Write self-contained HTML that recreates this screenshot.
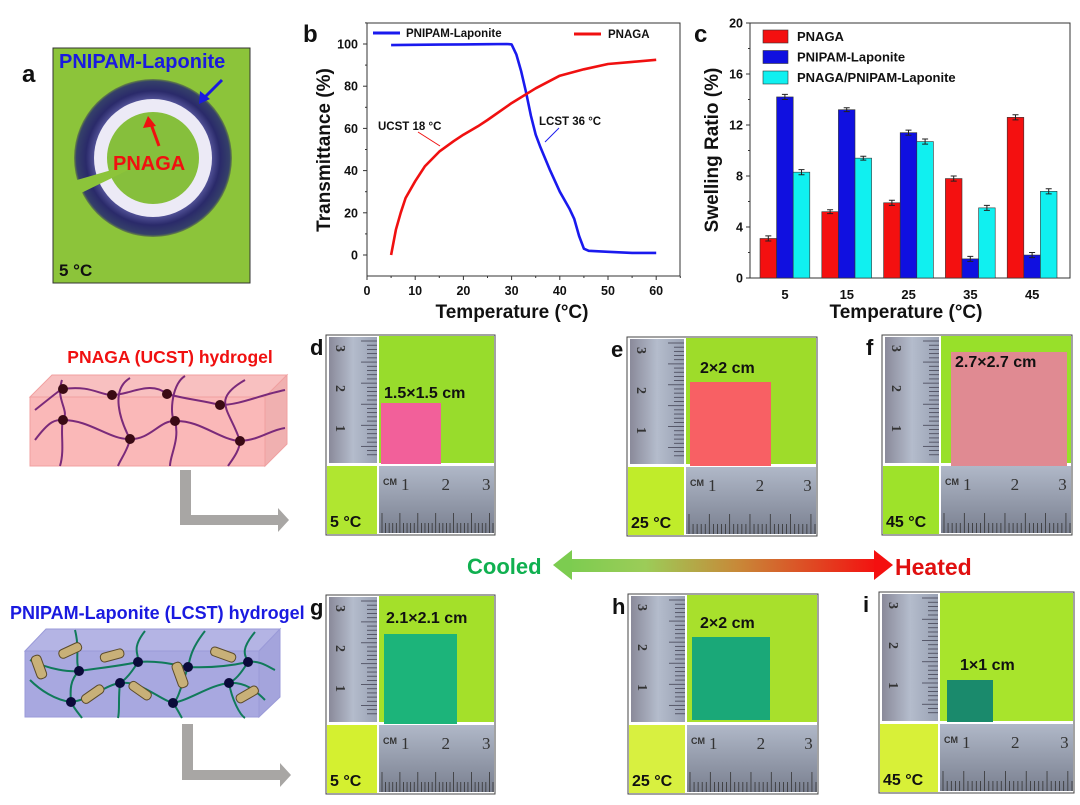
<!DOCTYPE html>
<html><head><meta charset="utf-8"><style>
html,body{margin:0;padding:0;background:#fff}
svg{display:block;font-family:"Liberation Sans",Arial,sans-serif;font-weight:bold}
</style></head><body>
<svg id="fig" width="1080" height="805" viewBox="0 0 1080 805" xmlns="http://www.w3.org/2000/svg">
<defs>
<linearGradient id="arrowGrad" x1="0" x2="1" y1="0" y2="0"><stop offset="0" stop-color="#7ccc50"/><stop offset="0.25" stop-color="#9ccc58"/><stop offset="0.55" stop-color="#c88838"/><stop offset="1" stop-color="#f41010"/></linearGradient>
<linearGradient id="rulerV" x1="0" x2="1"><stop offset="0" stop-color="#8a8a9a"/><stop offset="0.5" stop-color="#b4bccc"/><stop offset="1" stop-color="#9aa2b4"/></linearGradient>
<linearGradient id="rulerH" x1="0" x2="0" y1="0" y2="1"><stop offset="0" stop-color="#b0b8c8"/><stop offset="1" stop-color="#7a8090"/></linearGradient>
<radialGradient id="ringGrad"><stop offset="0.72" stop-color="#5a5aa0"/><stop offset="0.85" stop-color="#2a2a6a"/><stop offset="0.97" stop-color="#35406a"/><stop offset="1" stop-color="#6a8a40"/></radialGradient>
</defs>

<!-- Panel a -->
<g>
<text x="22" y="82" font-size="24" fill="#111">a</text>
<rect x="53" y="48" width="197" height="235" fill="#8cc43a" stroke="#333" stroke-width="1"/>
<circle cx="153" cy="158" r="79" fill="url(#ringGrad)"/>
<circle cx="153" cy="158" r="59" fill="#eceaf6"/>
<circle cx="153" cy="158" r="46" fill="#86bf3c"/>
<path d="M153 158 L70 182 L75 196 Z" fill="#8cc43a"/>
<text x="59" y="68" font-size="20" fill="#1a1ae0">PNIPAM-Laponite</text>
<line x1="222" y1="80" x2="204" y2="98" stroke="#1a1ae0" stroke-width="3"/>
<polygon points="199,104 200,91 210,99" fill="#1a1ae0"/>
<line x1="159" y1="146" x2="151" y2="124" stroke="#f01010" stroke-width="3"/>
<polygon points="148,116 143,128 156,126" fill="#f01010"/>
<text x="113" y="170" font-size="20" fill="#f01010">PNAGA</text>
<text x="59" y="276" font-size="17" fill="#111">5 °C</text>
</g>

<!-- Chart b -->
<g id="chartB">
<text x="303" y="42" font-size="24" fill="#111">b</text>
<rect x="367" y="23" width="313" height="253" fill="none" stroke="#333" stroke-width="1"/>
<text transform="translate(330,150) rotate(-90)" text-anchor="middle" font-size="19" fill="#111">Transmittance (%)</text>
<text x="512" y="318" text-anchor="middle" font-size="19" fill="#111">Temperature (°C)</text>
<line x1="373" y1="33" x2="400" y2="33" stroke="#1a1aee" stroke-width="3"/>
<text x="406" y="37" font-size="11.5" fill="#111">PNIPAM-Laponite</text>
<line x1="574" y1="34" x2="601" y2="34" stroke="#f01010" stroke-width="3"/>
<text x="608" y="38" font-size="11.5" fill="#111">PNAGA</text>
<text x="378" y="130" font-size="11.5" fill="#111">UCST 18 °C</text>
<line x1="418" y1="132" x2="440" y2="146" stroke="#f01010" stroke-width="1"/>
<text x="539" y="125" font-size="11.5" fill="#111">LCST 36 °C</text>
<line x1="559" y1="128" x2="545" y2="142" stroke="#1a1aee" stroke-width="1"/>
</g>

<!-- Chart c -->
<g id="chartC">
<text x="694" y="42" font-size="24" fill="#111">c</text>
<rect x="750" y="23" width="320" height="255" fill="none" stroke="#333" stroke-width="1"/>
<text transform="translate(718,150) rotate(-90)" text-anchor="middle" font-size="19" fill="#111">Swelling Ratio (%)</text>
<text x="906" y="318" text-anchor="middle" font-size="19" fill="#111">Temperature (°C)</text>
</g>

<!-- Schematics -->
<g>
<text x="170" y="363" text-anchor="middle" font-size="17.5" fill="#f01010">PNAGA (UCST) hydrogel</text>
<polygon points="30,397 52,375 287,375 265,397" fill="#f8c0c0" stroke="#f0a0a0"/>
<polygon points="265,397 287,375 287,444 265,466" fill="#f0b0b0" stroke="#f0a0a0"/>
<rect x="30" y="397" width="235" height="69" fill="#fab8b8" stroke="#f0a0a0"/>
<g fill="none" stroke="#7a2a7a" stroke-width="2">
<path d="M35 410 C60 390,60 390,63 389 C90 385,100 395,112 395 C130 395,150 380,167 394 C190 400,200 400,220 405 C240 405,260 395,285 390"/>
<path d="M35 440 C50 420,55 420,63 420 C90 420,110 440,130 439 C150 440,160 420,175 421 C200 420,220 440,240 441 C260 440,270 430,285 428"/>
<path d="M62 380 C55 400,70 410,63 420 C60 430,65 450,60 466"/><path d="M130 378 C110 390,120 420,130 439 C128 450,120 460,118 466"/>
<path d="M185 376 C170 385,170 420,175 421 C180 440,170 455,170 466"/><path d="M245 380 C210 400,230 410,240 441 C240 450,232 460,228 466"/>
</g>
<g fill="#3a0a14"><circle cx="63" cy="389" r="5"/><circle cx="112" cy="395" r="5"/><circle cx="167" cy="394" r="5"/><circle cx="220" cy="405" r="5"/><circle cx="63" cy="420" r="5"/><circle cx="130" cy="439" r="5"/><circle cx="175" cy="421" r="5"/><circle cx="240" cy="441" r="5"/></g>
<path d="M180 470 H191 V515 H278 V508 L289 520 L278 532 V525 H180 Z" fill="#a8a6a4"/>
</g>
<g>
<text x="10" y="619" font-size="18" fill="#1a1ae0">PNIPAM-Laponite (LCST) hydrogel</text>
<polygon points="25,651 46,629 280,629 259,651" fill="#b4b4e4" stroke="#9a9ad8"/>
<polygon points="259,651 280,629 280,697 259,717" fill="#a4a4dc" stroke="#9a9ad8"/>
<rect x="25" y="651" width="234" height="66" fill="#a8a8e0" stroke="#9a9ad8"/>
<g fill="none" stroke="#107a5a" stroke-width="2">
<path d="M30 660 C50 670,70 672,79 671 C100 668,120 666,138 662 C160 660,180 666,188 667 C210 668,230 666,248 662 C260 660,270 668,275 670"/>
<path d="M30 680 C40 690,55 700,71 702 C90 700,105 685,120 683 C140 680,160 700,173 703 C190 700,210 685,229 683 C245 682,255 690,265 700"/>
<path d="M75 630 C80 650,75 660,79 671 C70 680,70 690,71 702 C75 710,80 715,82 718"/><path d="M145 631 C130 650,140 655,138 662 C130 675,125 680,120 683 C118 700,120 710,118 718"/>
<path d="M205 631 C190 650,190 660,188 667 C180 690,178 700,173 703 C178 710,180 715,182 718"/><path d="M255 632 C240 650,245 655,248 662 C240 675,235 680,229 683 C232 700,240 715,245 718"/>
</g>
<g fill="#0a0a3a"><circle cx="79" cy="671" r="5"/><circle cx="138" cy="662" r="5"/><circle cx="188" cy="667" r="5"/><circle cx="248" cy="662" r="5"/><circle cx="71" cy="702" r="5"/><circle cx="120" cy="683" r="5"/><circle cx="173" cy="703" r="5"/><circle cx="229" cy="683" r="5"/></g>
<g fill="#c8b078" stroke="#5a4a2a" stroke-width="1">
<rect x="34" y="655" width="10" height="24" rx="4" transform="rotate(-20 39 667)"/><rect x="58" y="646" width="24" height="9" rx="4" transform="rotate(-25 70 650)"/><rect x="100" y="651" width="24" height="9" rx="4" transform="rotate(-15 112 655)"/><rect x="210" y="650" width="26" height="9" rx="4" transform="rotate(20 223 655)"/><rect x="80" y="690" width="25" height="9" rx="4" transform="rotate(-35 92 694)"/><rect x="128" y="686" width="25" height="9" rx="4" transform="rotate(35 140 690)"/><rect x="175" y="662" width="10" height="26" rx="4" transform="rotate(-20 180 675)"/><rect x="235" y="690" width="24" height="9" rx="4" transform="rotate(-30 247 694)"/>
</g>
<path d="M182 724 H193 V770 H280 V763 L291 775 L280 787 V780 H182 Z" fill="#a8a6a4"/>
</g>

<!-- Cooled / Heated arrow -->
<g>
<rect x="568" y="559" width="310" height="13" fill="url(#arrowGrad)"/>
<polygon points="553,565 572,550 572,580" fill="#7ccc50"/>
<polygon points="893,565 874,550 874,580" fill="#f41010"/>
<text x="467" y="574" font-size="22" fill="#10b050">Cooled</text>
<text x="895" y="575" font-size="23" fill="#e01010">Heated</text>
</g>

<g id="photos"></g>
</svg>
<script>
const NS="http://www.w3.org/2000/svg";
function mk(parent,tag,attrs,text){const e=document.createElementNS(NS,tag);for(const k in attrs)e.setAttribute(k,attrs[k]);if(text!==undefined)e.textContent=text;parent.appendChild(e);return e;}

/* ---------- Chart b data ---------- */
const pnipamTemps=[5,10,15,20,25,29,30,31,32,33,34,35,36,38,40,42,43,44,45,46,50,55,60];
const pnipamTrans=[99.5,99.6,99.7,99.8,99.9,100,99.8,95,87,77,66,57,51,40,30,22,17,9,3,2,1.5,1,1];
const pnagaTemps=[5,6,7,8,10,12,15,18,20,23,25,30,35,40,45,50,55,60];
const pnagaTrans=[0,12,20,27,35,42,49,54,57,61,64,72,79,85,88,90.5,91.5,92.5];
const bXTicks=[0,10,20,30,40,50,60];
const bYTicks=[0,20,40,60,80,100];
const bx=t=>367+t*4.82;
const by=v=>255-v*2.11;
const gB=document.getElementById('chartB');
bXTicks.forEach(t=>{
  const l=mk(gB,'line',{x1:bx(t),x2:bx(t),y1:276,y2:280,stroke:'#333'});
  
  
  const m=mk(gB,'line',{x1:bx(t+5),x2:bx(t+5),y1:276,y2:278,stroke:'#333'});
  
  
  const tx=mk(gB,'text',{x:bx(t),y:295,'text-anchor':'middle','font-size':12.5,fill:'#111'},String(t));
  
  
});
bYTicks.forEach(v=>{
  const l=mk(gB,'line',{x1:363,x2:367,y1:by(v),y2:by(v),stroke:'#333'});
  
  
  const m=mk(gB,'line',{x1:365,x2:367,y1:by(v+10),y2:by(v+10),stroke:'#333'});
  
  
  const tx=mk(gB,'text',{x:358,y:by(v)+4.5,'text-anchor':'end','font-size':12.5,fill:'#111'},String(v));
  
  
});
const pb=mk(gB,'path',{d:pnipamTemps.map((t,i)=>(i?'L':'M')+bx(t).toFixed(1)+' '+by(pnipamTrans[i]).toFixed(1)).join(' '),fill:'none',stroke:'#1a1aee','stroke-width':2.6,'stroke-linejoin':'round'});


const pr=mk(gB,'path',{d:pnagaTemps.map((t,i)=>(i?'L':'M')+bx(t).toFixed(1)+' '+by(pnagaTrans[i]).toFixed(1)).join(' '),fill:'none',stroke:'#f01010','stroke-width':2.6,'stroke-linejoin':'round'});



/* ---------- Chart c data ---------- */
const cCategories=['5','15','25','35','45'];
const cPnaga=[3.1,5.2,5.9,7.8,12.6];
const cPnipam=[14.2,13.2,11.4,1.5,1.8];
const cMixed=[8.3,9.4,10.7,5.5,6.8];
const cErr=[0.2,0.15,0.2,0.2,0.2];
const cYTicks=[0,4,8,12,16,20];
const cSeriesNames=['PNAGA','PNIPAM-Laponite','PNAGA/PNIPAM-Laponite'];
const cColors=['#f41010','#1010e0','#10f0f0'];
const cx=i=>785+i*61.8;
const cy=v=>278-v*12.75;
const gC=document.getElementById('chartC');
cYTicks.forEach(v=>{
  const l=mk(gC,'line',{x1:746,x2:750,y1:cy(v),y2:cy(v),stroke:'#333'});
  
  
  if(v<20){const m=mk(gC,'line',{x1:748,x2:750,y1:cy(v+2),y2:cy(v+2),stroke:'#333'});
  
  }
  const tx=mk(gC,'text',{x:743,y:cy(v)+4.5,'text-anchor':'end','font-size':12.5,fill:'#111'},String(v));
  
  
});
const cSeries=[cPnaga,cPnipam,cMixed];
cCategories.forEach((c,i)=>{
  const tx=mk(gC,'text',{x:cx(i),y:299,'text-anchor':'middle','font-size':13,fill:'#111'},c);
  
  
  cSeries.forEach((s,k)=>{
    const x0=cx(i)-25+k*16.6;
    const r=mk(gC,'rect',{x:x0,y:cy(s[i]),width:16.6,height:278-cy(s[i]),fill:cColors[k],stroke:'#333','stroke-width':0.6});
    
    
    const xm=x0+8.3;
    const e=mk(gC,'path',{d:`M${xm} ${cy(s[i]+cErr[i])} V${cy(s[i]-cErr[i])} M${xm-3} ${cy(s[i]+cErr[i])} H${xm+3} M${xm-3} ${cy(s[i]-cErr[i])} H${xm+3}`,stroke:'#222','stroke-width':1,fill:'none'});
    
    
  });
});
cSeriesNames.forEach((n,k)=>{
  const yy=30+k*20.5;
  const r=mk(gC,'rect',{x:763,y:yy,width:25,height:13,fill:cColors[k],stroke:'#333','stroke-width':0.6});
  
  
  const t=mk(gC,'text',{x:797,y:yy+11,'font-size':13,fill:'#111'},n);
  
  
});

/* ---------- Photo panels ---------- */
const panels=[
 {l:'d',x:326,y:335,w:169,h:200,t:'5 °C',sz:'1.5×1.5 cm',sc:'#f2609a',s:[381,403,60,61],lx:384,ly:398,g:'#98dc2c',g2:'#b0e630'},
 {l:'e',x:627,y:337,w:190,h:199,t:'25 °C',sz:'2×2 cm',sc:'#f86064',s:[690,382,81,84],lx:700,ly:373,g:'#9edc2a',g2:'#c0ec2a'},
 {l:'f',x:882,y:335,w:190,h:200,t:'45 °C',sz:'2.7×2.7 cm',sc:'#e08a92',s:[951,352,116,114],lx:955,ly:367,g:'#98e02a',g2:'#9ee22a'},
 {l:'g',x:326,y:595,w:169,h:199,t:'5 °C',sz:'2.1×2.1 cm',sc:'#1cb47a',s:[384,634,73,90],lx:386,ly:623,g:'#a4e02a',g2:'#d4f030'},
 {l:'h',x:628,y:594,w:190,h:200,t:'25 °C',sz:'2×2 cm',sc:'#1aa878',s:[692,637,78,83],lx:700,ly:628,g:'#a8e02c',g2:'#d8f040'},
 {l:'i',x:879,y:592,w:195,h:201,t:'45 °C',sz:'1×1 cm',sc:'#1a8a6c',s:[947,680,46,42],lx:960,ly:670,g:'#a8e42c',g2:'#d8f038'}
];
const gP=document.getElementById('photos');
panels.forEach(p=>{
  const g=mk(gP,'g',{});
  
  
  mk(g,'rect',{x:p.x,y:p.y,width:p.w,height:p.h,fill:'#fff',stroke:'#444','stroke-width':1});
  const rw=Math.round(p.w*0.3), topH=Math.round(p.h*0.64);
  mk(g,'rect',{x:p.x+3,y:p.y+2,width:rw-3,height:topH-2,fill:'url(#rulerV)'});
  for(let k=0;k<28;k++){const yy=p.y+6+k*(topH-10)/28;mk(g,'line',{x1:p.x+rw-(k%5?10:16),x2:p.x+rw,y1:yy,y2:yy,stroke:'#445','stroke-width':0.8});}
  ['3','2','1'].forEach((n,k)=>mk(g,'text',{x:p.x+12,y:p.y+16+k*40,'font-size':14,'font-family':'Liberation Serif, serif',fill:'#333',transform:`rotate(90 ${p.x+14} ${p.y+12+k*40})`},n));
  mk(g,'rect',{x:p.x+rw+2,y:p.y+1,width:p.w-rw-3,height:topH-1,fill:p.g});
  const sq=mk(g,'rect',{x:p.s[0],y:p.s[1],width:p.s[2],height:p.s[3],fill:p.sc});
  
  
  const sl=mk(g,'text',{x:p.lx,y:p.ly,'font-size':16,fill:'#111'},p.sz);
  
  
  mk(g,'rect',{x:p.x+1,y:p.y+topH+3,width:rw-1,height:p.h-topH-4,fill:p.g2});
  const tl=mk(g,'text',{x:p.x+4,y:p.y+p.h-8,'font-size':16,fill:'#111'},p.t);
  
  
  const bx0=p.x+rw+2, bw=p.w-rw-3;
  mk(g,'rect',{x:bx0,y:p.y+topH+3,width:bw,height:p.h-topH-5,fill:'url(#rulerH)'});
  for(let k=0;k<32;k++){const xx=bx0+3+k*(bw-4)/31;mk(g,'line',{x1:xx,x2:xx,y1:p.y+p.h-2,y2:p.y+p.h-(k%5?12:22),stroke:'#333','stroke-width':0.8});}
  mk(g,'text',{x:bx0+4,y:p.y+topH+22,'font-size':9,fill:'#333'},'CM');
  ['1','2','3'].forEach((n,k)=>mk(g,'text',{x:bx0+22+k*(bw-30)/2.1,y:p.y+topH+27,'font-size':17,'font-weight':'normal','font-family':'Liberation Serif, serif',fill:'#333'},n));
  const lt=mk(g,'text',{x:p.x-16,y:p.y+20,'font-size':22,fill:'#111'},p.l);
  
  
});
</script>
</body></html>
